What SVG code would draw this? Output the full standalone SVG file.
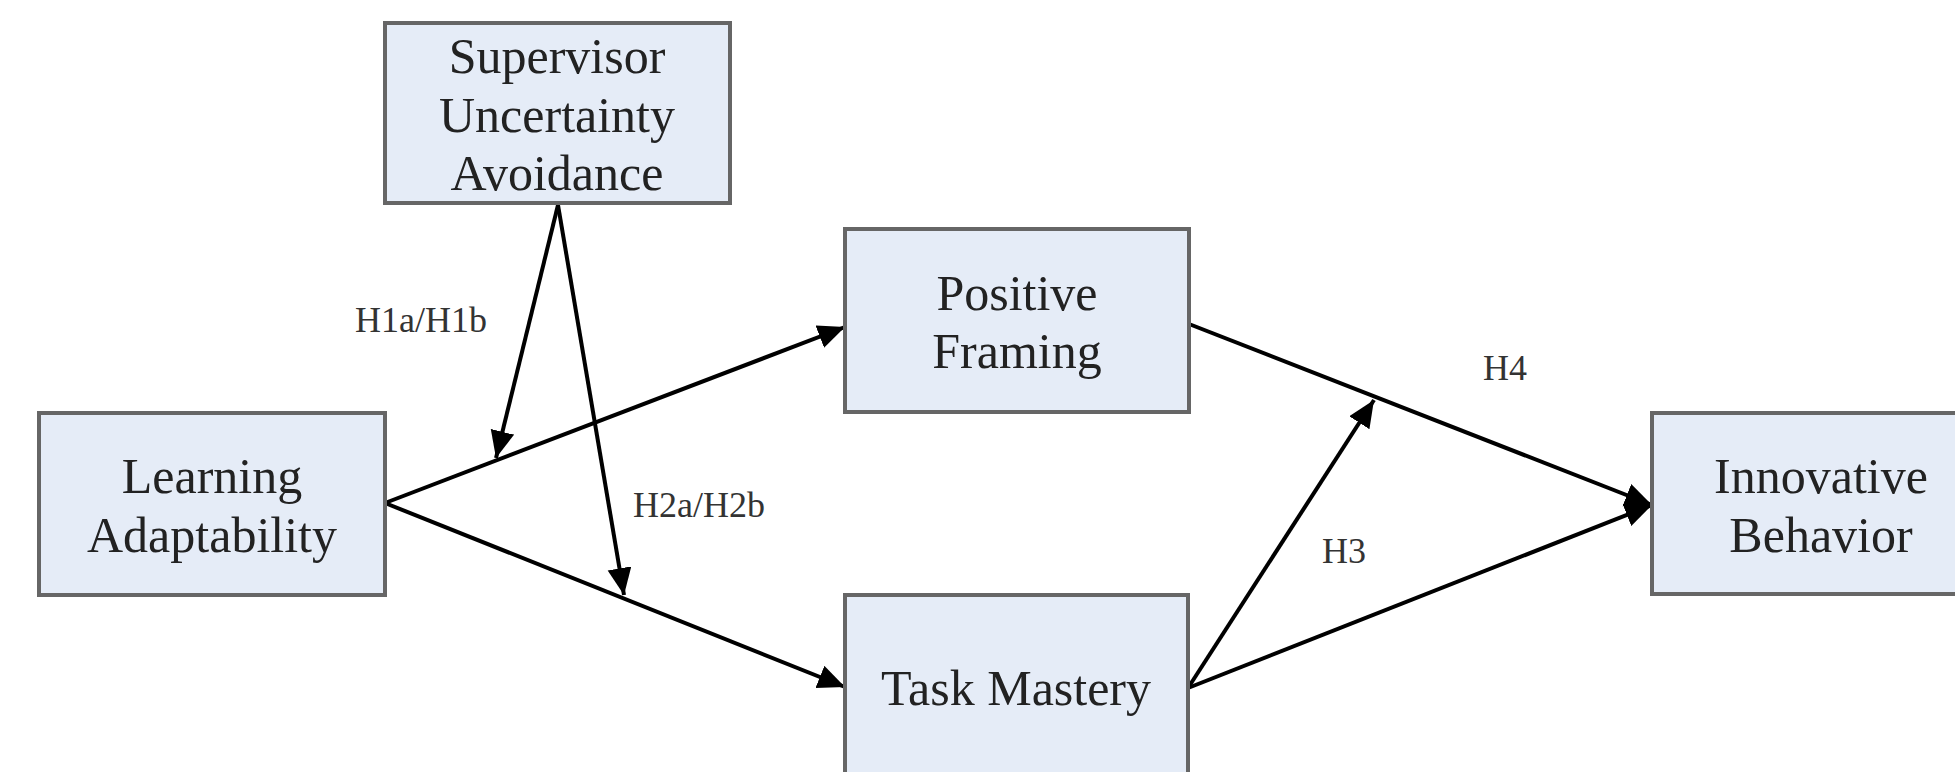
<svg xmlns="http://www.w3.org/2000/svg" width="1955" height="772" viewBox="0 0 1955 772">
<style>
.box{fill:#e5ecf7;stroke:#666;stroke-width:4}
.t{font-family:'Liberation Serif','DejaVu Serif',serif;font-size:50px;fill:#222;text-anchor:middle}
.lab{font-family:'Liberation Serif','DejaVu Serif',serif;font-size:36px;fill:#333}
.c{stroke:#000;stroke-width:4;fill:none;marker-end:url(#ah)}
</style>
<defs>
<marker id="ah" markerUnits="userSpaceOnUse" markerWidth="32" markerHeight="26" refX="27" refY="12" orient="auto">
<path d="M0,0 L27,12 L0,24 Z" fill="#000"/>
</marker>
</defs>
<rect width="1955" height="772" fill="#fff"/>
<g id="connectors">
<line class="c" x1="385" y1="503" x2="845" y2="327"/>
<line class="c" x1="385" y1="503" x2="845" y2="687"/>
<line class="c" x1="558" y1="205" x2="496" y2="458"/>
<line class="c" x1="558" y1="205" x2="624" y2="595"/>
<line class="c" x1="1189" y1="324" x2="1652" y2="505"/>
<line class="c" x1="1188" y1="688" x2="1652" y2="505"/>
<line class="c" x1="1188" y1="688" x2="1374" y2="400"/>
</g>
<g id="supervisor">
<rect class="box" x="385" y="23" width="345" height="180"/>
<text class="t" x="557" y="73">Supervisor</text>
<text class="t" x="557" y="132">Uncertainty</text>
<text class="t" x="557" y="190">Avoidance</text>
</g>
<g id="positive-framing">
<rect class="box" x="845" y="229" width="344" height="183"/>
<text class="t" x="1017" y="310">Positive</text>
<text class="t" x="1017" y="368">Framing</text>
</g>
<g id="learning-adaptability">
<rect class="box" x="39" y="413" width="346" height="182"/>
<text class="t" x="212" y="493">Learning</text>
<text class="t" x="212" y="552">Adaptability</text>
</g>
<g id="task-mastery">
<rect class="box" x="845" y="595" width="343" height="182"/>
<text class="t" x="1016" y="705">Task Mastery</text>
</g>
<g id="innovative-behavior">
<rect class="box" x="1652" y="413" width="345" height="181"/>
<text class="t" x="1821" y="493">Innovative</text>
<text class="t" x="1821" y="552">Behavior</text>
</g>
<g id="labels">
<text class="lab" x="355" y="332">H1a/H1b</text>
<text class="lab" x="633" y="517">H2a/H2b</text>
<text class="lab" x="1483" y="380">H4</text>
<text class="lab" x="1322" y="563">H3</text>
</g>
</svg>
